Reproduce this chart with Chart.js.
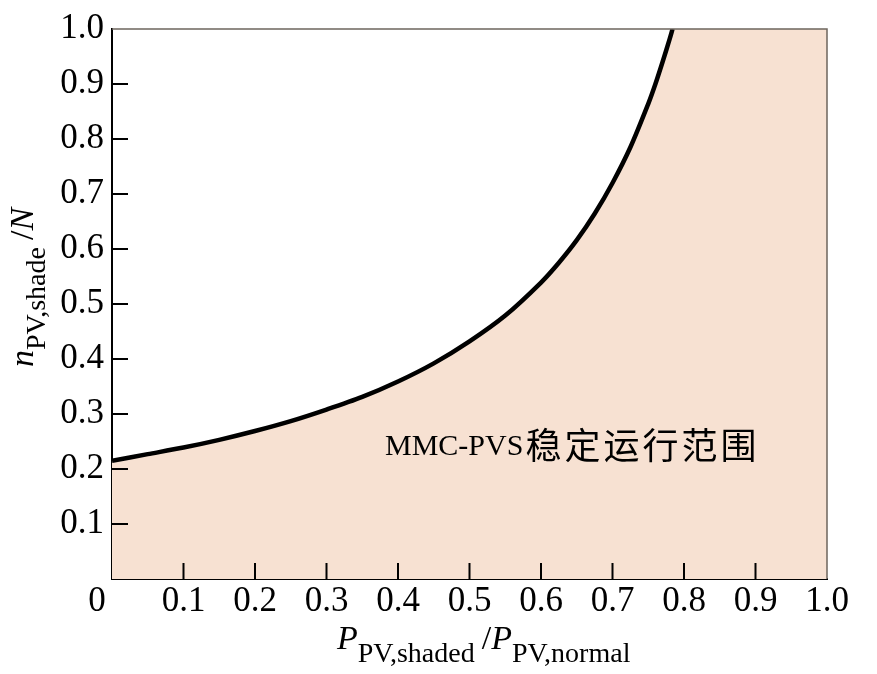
<!DOCTYPE html>
<html>
<head>
<meta charset="utf-8">
<script src="https://cdn.jsdelivr.net/npm/chart.js@4"></script>
<style>
  body { margin: 0; background: #fff; }
  #box { width: 877px; height: 674px; }
</style>
</head>
<body>
<div id="box"><canvas id="myChart" width="877" height="674"></canvas></div>
<script>
// boundary curve
var pRatio = [0, 0.05, 0.1, 0.15, 0.2, 0.25, 0.3, 0.35, 0.4, 0.45, 0.5, 0.55, 0.6, 0.625, 0.65, 0.675, 0.7, 0.725, 0.75, 0.76, 0.77, 0.78, 0.784];
var nRatio = [0.215, 0.227, 0.239, 0.253, 0.269, 0.287, 0.308, 0.331, 0.359, 0.392, 0.432, 0.479, 0.539, 0.575, 0.616, 0.664, 0.72, 0.785, 0.864, 0.9, 0.94, 0.982, 1.0];
// the stable region also covers everything right of the curve end
var regionEndX = [1.0];
var regionEndY = [1.0];

// the shared origin "0" is drawn separately, a bit left of the corner
var originLabel = '0';
var xTickLabels = ['', '0.1', '0.2', '0.3', '0.4', '0.5', '0.6', '0.7', '0.8', '0.9', '1.0'];
var yTickLabels = ['', '0.1', '0.2', '0.3', '0.4', '0.5', '0.6', '0.7', '0.8', '0.9', '1.0'];
var innerTicks = [0.1, 0.2, 0.3, 0.4, 0.5, 0.6, 0.7, 0.8, 0.9];

var serif = '"Liberation Serif", "Times New Roman", serif';
var cjk = '"Noto Sans CJK SC", sans-serif';

var curve = pRatio.map(function (x, i) { return { x: x, y: nRatio[i] }; });
var region = curve.concat(regionEndX.map(function (x, i) { return { x: x, y: regionEndY[i] }; }));

function drawRich(ctx, x, y, segs) {
    segs.forEach(function (s) {
        ctx.font = s.font;
        ctx.fillText(s.text, x, y + (s.dy || 0));
        x += ctx.measureText(s.text).width + (s.gap || 0);
    });
}

var decor = {
    id: 'decor',
    afterDatasetsDraw: function (chart) {
        var ctx = chart.ctx;
        var a = chart.chartArea;
        var xs = chart.scales.x, ys = chart.scales.y;
        ctx.save();
        // top and right frame
        ctx.strokeStyle = '#6e655d';
        ctx.lineWidth = 1.5;
        ctx.beginPath();
        ctx.moveTo(a.left, a.top);
        ctx.lineTo(a.right, a.top);
        ctx.lineTo(a.right, a.bottom);
        ctx.stroke();
        // ticks pointing inwards
        ctx.strokeStyle = '#000';
        ctx.lineWidth = 2;
        ctx.beginPath();
        innerTicks.forEach(function (v) {
            var py = ys.getPixelForValue(v);
            ctx.moveTo(a.left, py);
            ctx.lineTo(a.left + 16, py);
            var px = xs.getPixelForValue(v);
            ctx.moveTo(px, a.bottom);
            ctx.lineTo(px, a.bottom - 16);
        });
        ctx.stroke();
        ctx.restore();
    },
    afterDraw: function (chart) {
        var ctx = chart.ctx;
        var a = chart.chartArea;
        ctx.save();
        ctx.fillStyle = '#000';
        ctx.textBaseline = 'alphabetic';
        ctx.textAlign = 'left';

        // origin label
        ctx.font = '35px ' + serif;
        ctx.textAlign = 'center';
        ctx.fillText(originLabel, a.left - 15, 611);
        ctx.textAlign = 'left';

        // x axis title
        drawRich(ctx, 337, 649, [
            { text: 'P', font: 'italic 34px ' + serif },
            { text: 'PV,shaded', font: '28px ' + serif, dy: 13, gap: 7 },
            { text: '/', font: '34px ' + serif },
            { text: 'P', font: 'italic 34px ' + serif },
            { text: 'PV,normal', font: '28px ' + serif, dy: 13 }
        ]);

        // y axis title, rotated
        ctx.save();
        ctx.translate(33, 367);
        ctx.rotate(-Math.PI / 2);
        drawRich(ctx, 0, 0, [
            { text: 'n', font: 'italic 34px ' + serif },
            { text: 'PV,shade', font: '28px ' + serif, dy: 12, gap: 7 },
            { text: '/', font: '34px ' + serif },
            { text: 'N', font: 'italic 34px ' + serif }
        ]);
        ctx.restore();

        // region label
        ctx.font = '30px ' + serif;
        ctx.fillText('MMC-PVS', 385, 455);
        var w = ctx.measureText('MMC-PVS').width;
        ctx.font = '36px ' + cjk;
        ctx.letterSpacing = '3px';
        ctx.fillText('稳定运行范围', 385 + w + 2, 459);
        ctx.restore();
    }
};

var ctx = document.getElementById('myChart').getContext('2d');

var myChart = new Chart(ctx, {
    type: 'line',
    data: {
        datasets: [
            {
                label: 'curve',
                data: curve,
                borderColor: '#000',
                borderWidth: 4.5,
                pointRadius: 0,
                fill: false,
                tension: 0.3,
                capBezierPoints: false,
                order: 0
            },
            {
                label: 'region',
                data: region,
                borderWidth: 0,
                borderColor: 'rgba(0,0,0,0)',
                backgroundColor: '#f7e1d2',
                pointRadius: 0,
                fill: 'origin',
                tension: 0.3,
                capBezierPoints: false,
                order: 1
            }
        ]
    },
    plugins: [decor],
    options: {
        responsive: false,
        animation: false,
        layout: { padding: { left: 0, right: 50, top: 27, bottom: 0 } },
        plugins: {
            legend: { display: false },
            tooltip: { enabled: false }
        },
        scales: {
            x: {
                type: 'linear',
                min: 0,
                max: 1,
                afterFit: function (s) { s.height = 95; },
                afterBuildTicks: function (s) {
                    s.ticks = xTickLabels.map(function (t, i) { return { value: i / 10 }; });
                },
                grid: { display: false, drawTicks: false },
                border: { display: true, color: '#000', width: 2 },
                ticks: {
                    color: '#000',
                    padding: 2,
                    maxRotation: 0,
                    autoSkip: false,
                    font: { family: serif, size: 35 },
                    callback: function (v, i) { return xTickLabels[i]; }
                }
            },
            y: {
                type: 'linear',
                min: 0,
                max: 1,
                afterFit: function (s) { s.width = 112; },
                afterBuildTicks: function (s) {
                    s.ticks = yTickLabels.map(function (t, i) { return { value: i / 10 }; });
                },
                grid: { display: false, drawTicks: false },
                border: { display: true, color: '#000', width: 2 },
                ticks: {
                    color: '#000',
                    padding: 8,
                    autoSkip: false,
                    font: { family: serif, size: 35 },
                    callback: function (v, i) { return yTickLabels[i]; }
                }
            }
        }
    }
});
</script>
</body>
</html>
